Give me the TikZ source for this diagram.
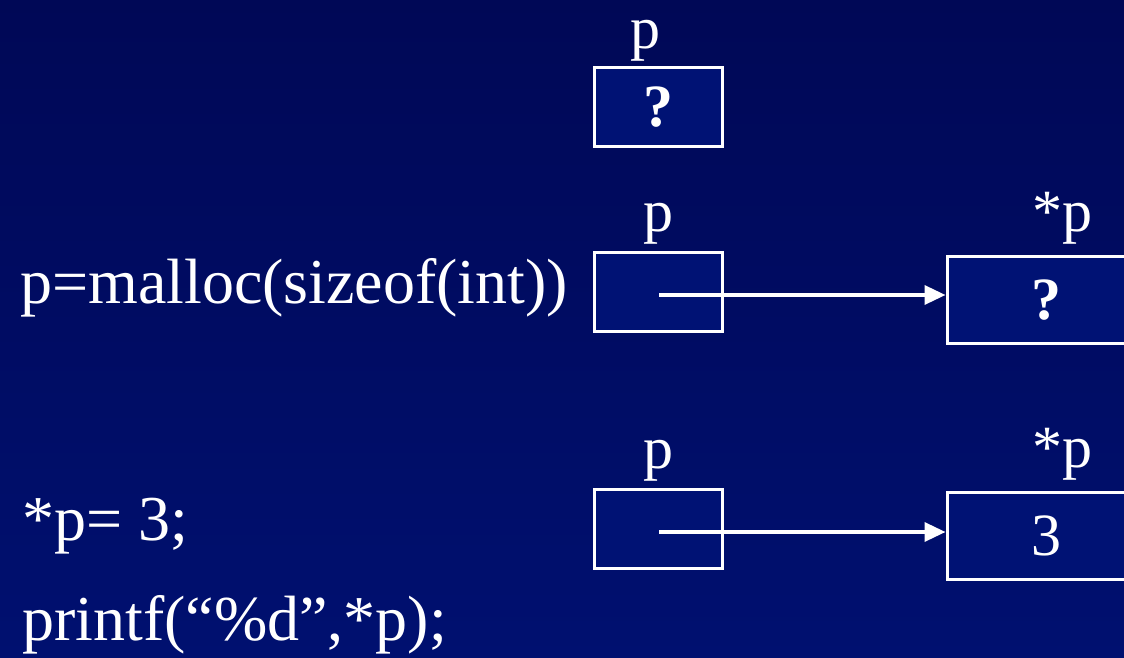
\documentclass[tikz,border=0pt]{standalone}
\usepackage{fontspec}
\setmainfont{Liberation Serif}
\usetikzlibrary{positioning,arrows.meta}
\definecolor{bgtop}{RGB}{0,8,86}
\definecolor{bgbottom}{RGB}{0,16,112}
\definecolor{boxblue}{RGB}{0,18,116}
\tikzset{
	cell/.style={draw=white, fill=boxblue, line width=3pt, minimum width=128pt, minimum height=79pt, inner sep=0pt, text=white, font=\fontsize{60}{66}\selectfont\bfseries},
	wide/.style={cell, minimum width=198pt, minimum height=87pt},
	lbl/.style={inner sep=0pt, text=white, font=\fontsize{60}{66}\selectfont},
	code/.style={inner sep=0pt, text=white, anchor=base west, font=\fontsize{64}{70}\selectfont},
	ptr/.style={draw=white, line width=3.5pt, -{Triangle[length=21pt,width=19pt]}}
}
\begin{document}
\begin{tikzpicture}[x=1pt,y=-1pt]
		%%%%% START %%%%%
		
		\clip (0, 0) rectangle (1124, 658);
		\shade[top color=bgtop, bottom color=bgbottom] (0, 0) rectangle (1124, 658);
		
		% declaration
		\node[cell] (b1) at (658, 107) {?};
		\node[lbl, above=5pt of b1, xshift=-13pt] (l1) {p};
		
		% after malloc
		\node[code] (c1) at (20, 303) {p=malloc(sizeof(int))};
		\node[cell] (b2) at (658, 292) {};
		\node[lbl, above=7pt of b2] (l2) {p};
		\node[wide] (b3) at (1046, 300) {?};
		\node[lbl, above=11pt of b3, xshift=16pt] (l3) {*p};
		\draw[ptr] (b2.center) ++(1, 3) -- (b3.west |- 0, 295);
		
		% after assignment
		\node[code] (c2) at (22, 540) {*p= 3;};
		\node[code] (c3) at (22, 640) {printf(“\%d”,*p);};
		\node[cell] (b4) at (658, 529) {};
		\node[lbl, above=7pt of b4] (l4) {p};
		\node[wide] (b5) at (1046, 536) {\mdseries 3};
		\node[lbl, above=11pt of b5, xshift=16pt] (l5) {*p};
		\draw[ptr] (b4.center) ++(1, 3) -- (b5.west |- 0, 532);
		
		%%%%% END %%%%%
	\end{tikzpicture}
\end{document}
